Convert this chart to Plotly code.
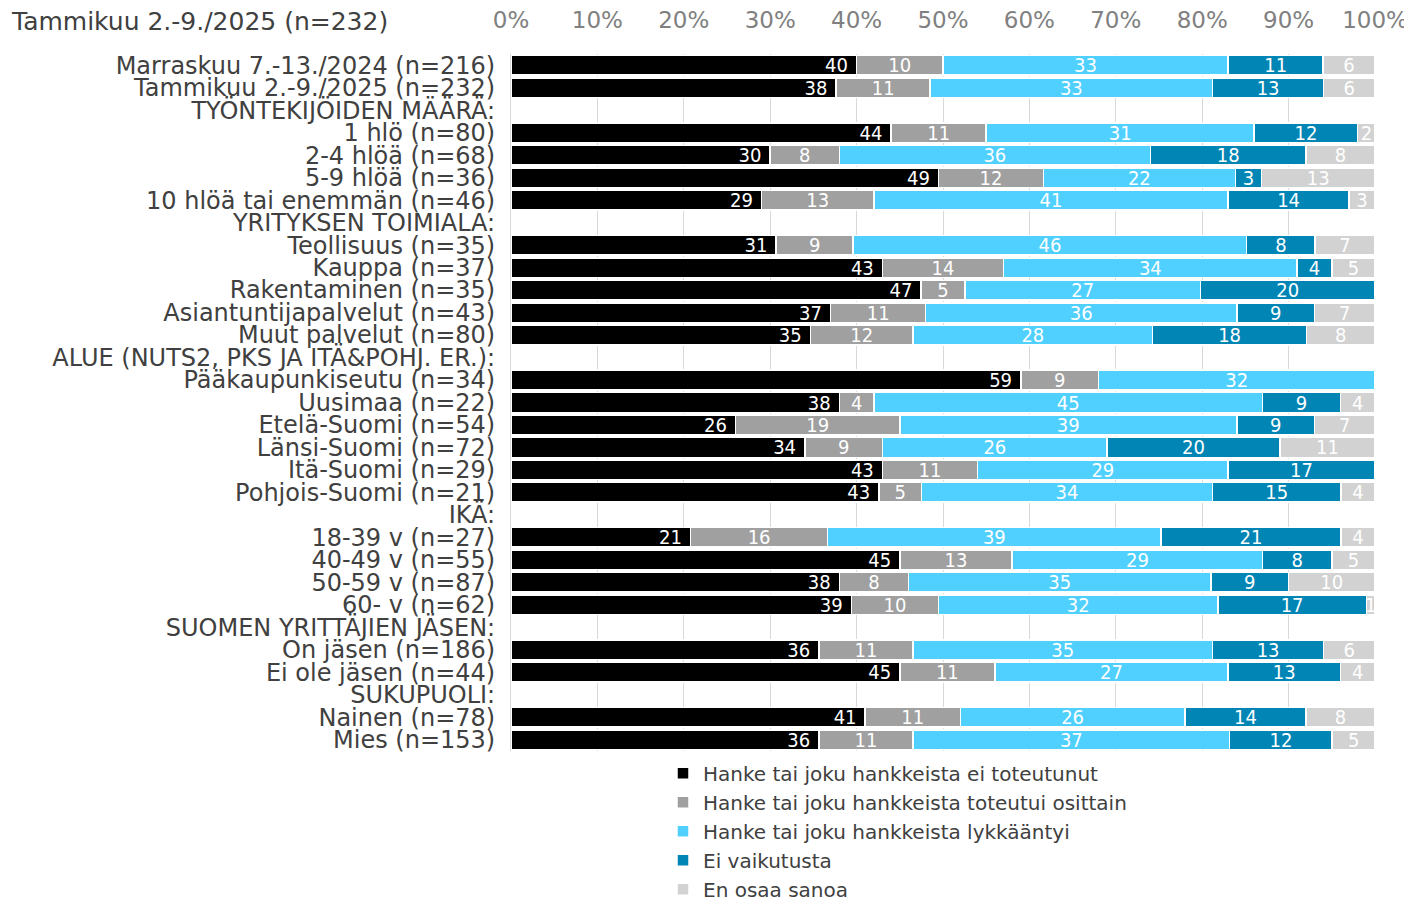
import plotly.graph_objects as go

title_text = "Tammikuu 2.-9./2025 (n=232)"

categories = [
    "Marraskuu 7.-13./2024 (n=216)",
    "Tammikuu 2.-9./2025 (n=232)",
    "TYÖNTEKIJÖIDEN MÄÄRÄ:",
    "1 hlö (n=80)",
    "2-4 hlöä (n=68)",
    "5-9 hlöä (n=36)",
    "10 hlöä tai enemmän (n=46)",
    "YRITYKSEN TOIMIALA:",
    "Teollisuus (n=35)",
    "Kauppa (n=37)",
    "Rakentaminen (n=35)",
    "Asiantuntijapalvelut (n=43)",
    "Muut palvelut (n=80)",
    "ALUE (NUTS2, PKS JA ITÄ&POHJ. ER.):",
    "Pääkaupunkiseutu (n=34)",
    "Uusimaa (n=22)",
    "Etelä-Suomi (n=54)",
    "Länsi-Suomi (n=72)",
    "Itä-Suomi (n=29)",
    "Pohjois-Suomi (n=21)",
    "IKÄ:",
    "18-39 v (n=27)",
    "40-49 v (n=55)",
    "50-59 v (n=87)",
    "60- v (n=62)",
    "SUOMEN YRITTÄJIEN JÄSEN:",
    "On jäsen (n=186)",
    "Ei ole jäsen (n=44)",
    "SUKUPUOLI:",
    "Nainen (n=78)",
    "Mies (n=153)",
]

ei_toteutunut = [40, 38, None, 44, 30, 49, 29, None, 31, 43, 47, 37, 35, None,
                 59, 38, 26, 34, 43, 43, None, 21, 45, 38, 39, None, 36, 45, None, 41, 36]
osittain = [10, 11, None, 11, 8, 12, 13, None, 9, 14, 5, 11, 12, None,
            9, 4, 19, 9, 11, 5, None, 16, 13, 8, 10, None, 11, 11, None, 11, 11]
lykkaantyi = [33, 33, None, 31, 36, 22, 41, None, 46, 34, 27, 36, 28, None,
              32, 45, 39, 26, 29, 34, None, 39, 29, 35, 32, None, 35, 27, None, 26, 37]
ei_vaikutusta = [11, 13, None, 12, 18, 3, 14, None, 8, 4, 20, 9, 18, None,
                 0, 9, 9, 20, 17, 15, None, 21, 8, 9, 17, None, 13, 13, None, 14, 12]
en_osaa = [6, 6, None, 2, 8, 13, 3, None, 7, 5, 0, 7, 8, None,
           0, 4, 7, 11, 0, 4, None, 4, 5, 10, 1, None, 6, 4, None, 8, 5]

series_names = [
    "Hanke tai joku hankkeista ei toteutunut",
    "Hanke tai joku hankkeista toteutui osittain",
    "Hanke tai joku hankkeista lykkääntyi",
    "Ei vaikutusta",
    "En osaa sanoa",
]
series_values = [ei_toteutunut, osittain, lykkaantyi, ei_vaikutusta, en_osaa]
series_colors = ["#000000", "#A0A0A0", "#50D0FF", "#0085B5", "#D2D2D2"]
x_ticks = [0, 10, 20, 30, 40, 50, 60, 70, 80, 90, 100]

FONT = "DejaVu Sans"
VALFONT = "DejaVu Sans Condensed, DejaVu Sans"

# page body has an 8px margin, so the figure is sized to fill the rest of the window
W, H = 1404, 895

fig = go.Figure()
for i, (name, vals, col) in enumerate(zip(series_names, series_values, series_colors)):
    suffix = "\u00a0" if i == 0 else ""
    fig.add_trace(go.Bar(
        y=categories,
        x=vals,
        name=name,
        orientation="h",
        marker=dict(color=col, line=dict(color="white", width=1.5)),
        text=[f"{v}{suffix}" if v else "" for v in vals],
        texttemplate="%{text}",
        textposition="inside",
        textangle=0,
        insidetextanchor="end" if i == 0 else "middle",
        insidetextfont=dict(family=VALFONT, size=20, color="white"),
        hoverinfo="skip",
    ))

fig.update_layout(
    barmode="stack",
    barnorm="percent",
    bargap=0.13,
    width=W,
    height=H,
    margin=dict(l=503, r=37, t=46, b=152, autoexpand=False),
    paper_bgcolor="white",
    plot_bgcolor="white",
    font=dict(family=FONT, color="#404040"),
    uniformtext=dict(minsize=20, mode="show"),
    title=dict(
        text=title_text,
        font=dict(family=FONT, size=25, color="#404040"),
        xref="container", yref="container",
        x=4 / W, xanchor="left",
        y=1 - 13 / H, yanchor="middle",
    ),
    xaxis=dict(
        side="top",
        range=[0, 100],
        tickvals=x_ticks,
        ticktext=[f"{t}%" for t in x_ticks],
        tickfont=dict(family=FONT, size=23, color="#808080"),
        ticklabelstandoff=20,
        showgrid=True,
        gridcolor="#D9D9D9",
        gridwidth=1,
        zeroline=False,
        showline=False,
        fixedrange=True,
        automargin=False,
    ),
    yaxis=dict(
        autorange="reversed",
        tickmode="array",
        tickvals=categories,
        ticktext=categories,
        tickfont=dict(family=FONT, size=24, color="#404040"),
        ticklabelstandoff=10,
        showgrid=False,
        showline=True,
        linecolor="#D9D9D9",
        linewidth=1,
        fixedrange=True,
        automargin=False,
    ),
    legend=dict(
        orientation="v",
        x=(663 - 511) / 864,
        xanchor="left",
        y=-0.004,
        yanchor="top",
        font=dict(family=FONT, size=20, color="#404040"),
        traceorder="normal",
        bgcolor="rgba(0,0,0,0)",
    ),
    showlegend=True,
)

fig.write_html("out.html")
